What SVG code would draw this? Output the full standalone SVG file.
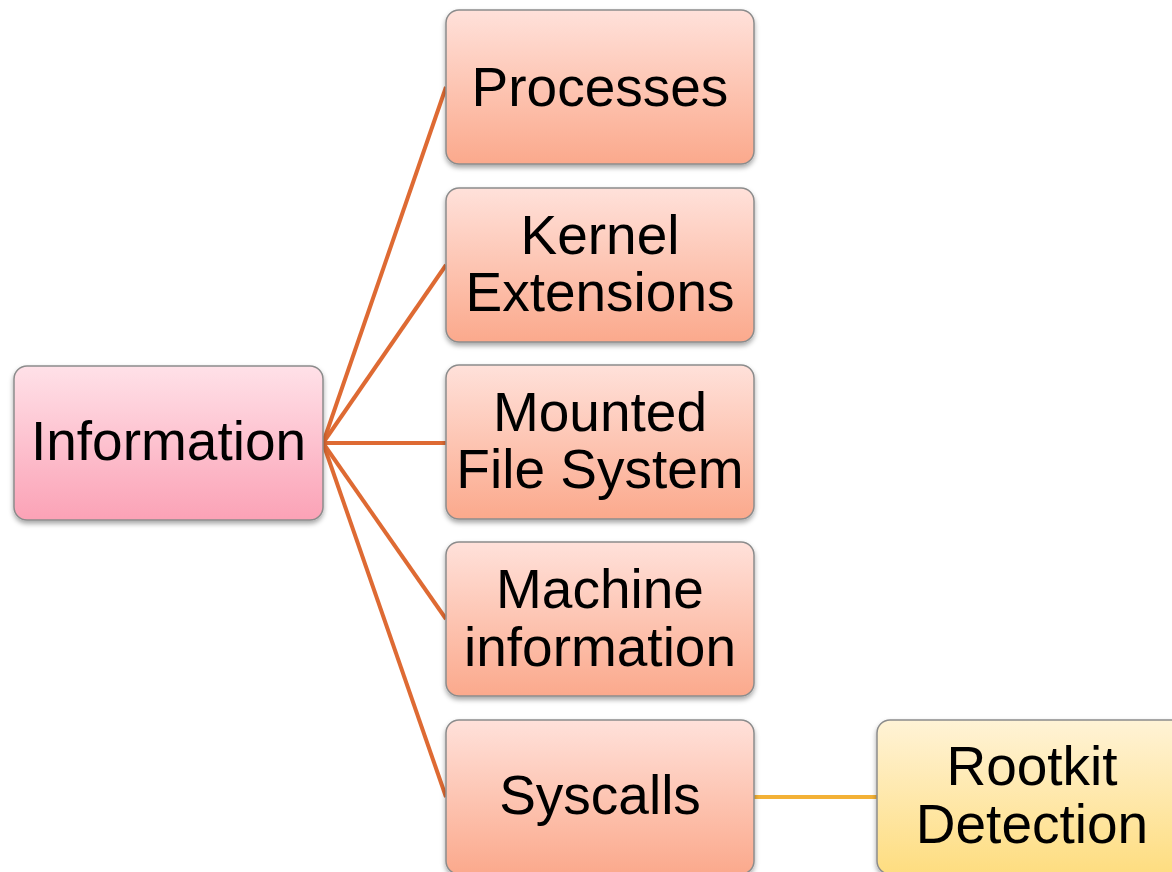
<svg xmlns="http://www.w3.org/2000/svg" width="1172" height="872" viewBox="0 0 1172 872">
  <defs>
    <linearGradient id="gPink" x1="0" y1="0" x2="0" y2="1">
      <stop offset="0" stop-color="#FFE1E8"/>
      <stop offset="1" stop-color="#FBA2B6"/>
    </linearGradient>
    <linearGradient id="gSalmon" x1="0" y1="0" x2="0" y2="1">
      <stop offset="0" stop-color="#FFE1DA"/>
      <stop offset="1" stop-color="#FBA98C"/>
    </linearGradient>
    <linearGradient id="gYellow" x1="0" y1="0" x2="0" y2="1">
      <stop offset="0" stop-color="#FFF3D6"/>
      <stop offset="1" stop-color="#FEDD80"/>
    </linearGradient>
    <filter id="shadow" x="-10%" y="-10%" width="120%" height="130%">
      <feDropShadow dx="0" dy="3" stdDeviation="2.5" flood-color="#000" flood-opacity="0.35"/>
    </filter>
  </defs>
  <style>
    .box { stroke: #8C8C8C; stroke-width: 1.5; filter: url(#shadow); }
    .lbl { font-family: "Liberation Sans", Arial, sans-serif; font-size: 55px; fill: #000; text-anchor: middle; }
    .link { stroke: #DE6A33; stroke-width: 4; fill: none; }
    .link2 { stroke: #F3B136; stroke-width: 4; fill: none; }
  </style>

  <rect width="1172" height="872" fill="#FFFFFF"/>

  <g id="connectors">
    <line class="link" x1="323" y1="443" x2="446" y2="87"/>
    <line class="link" x1="323" y1="443" x2="446" y2="265"/>
    <line class="link" x1="323" y1="443" x2="446" y2="443"/>
    <line class="link" x1="323" y1="443" x2="446" y2="619"/>
    <line class="link" x1="323" y1="443" x2="446" y2="797"/>
    <line class="link2" x1="754" y1="797" x2="877" y2="797"/>
  </g>

  <g id="information">
    <rect class="box" x="14" y="366" width="309" height="154" rx="13" fill="url(#gPink)"/>
    <text class="lbl" x="168.5" y="460">Information</text>
  </g>

  <g id="processes">
    <rect class="box" x="446" y="10" width="308" height="154" rx="13" fill="url(#gSalmon)"/>
    <text class="lbl" x="600" y="106">Processes</text>
  </g>

  <g id="kernel-extensions">
    <rect class="box" x="446" y="188" width="308" height="154" rx="13" fill="url(#gSalmon)"/>
    <text class="lbl" x="600" y="254">Kernel</text>
    <text class="lbl" x="600" y="311">Extensions</text>
  </g>

  <g id="mounted-file-system">
    <rect class="box" x="446" y="365" width="308" height="154" rx="13" fill="url(#gSalmon)"/>
    <text class="lbl" x="600" y="431">Mounted</text>
    <text class="lbl" x="600" y="488">File System</text>
  </g>

  <g id="machine-information">
    <rect class="box" x="446" y="542" width="308" height="154" rx="13" fill="url(#gSalmon)"/>
    <text class="lbl" x="600" y="608">Machine</text>
    <text class="lbl" x="600" y="666">information</text>
  </g>

  <g id="syscalls">
    <rect class="box" x="446" y="720" width="308" height="154" rx="13" fill="url(#gSalmon)"/>
    <text class="lbl" x="600" y="814">Syscalls</text>
  </g>

  <g id="rootkit-detection">
    <rect class="box" x="877" y="720" width="308" height="154" rx="13" fill="url(#gYellow)"/>
    <text class="lbl" x="1032" y="785">Rootkit</text>
    <text class="lbl" x="1032" y="843">Detection</text>
  </g>
</svg>
